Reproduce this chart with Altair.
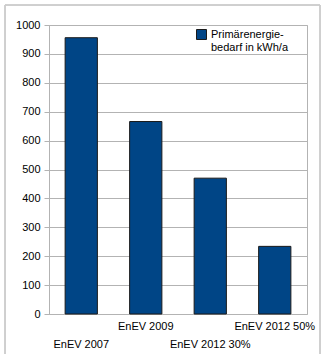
import altair as alt
import pandas as pd

categories = ["EnEV 2007", "EnEV 2009", "EnEV 2012 30%", "EnEV 2012 50%"]
values = [956, 666, 470, 234]
series = "Primärenergiebedarf in kWh/a"

df = pd.DataFrame({"cat": categories, "val": values, "series": [series] * len(categories)})

lower = " || ".join(f"datum.value == '{c}'" for c in categories[0::2])

bars = alt.Chart(df).mark_bar(stroke="#1a1a1a", strokeWidth=1).encode(
    x=alt.X("cat:N", sort=categories, title=None,
            scale=alt.Scale(paddingInner=0.5, paddingOuter=0.25),
            axis=alt.Axis(labelAngle=0, ticks=False, domain=False, grid=False,
                          labelPadding=6, labelFontSize=11, labelColor="#000",
                          labelFont="Liberation Sans", labelLineHeight=18,
                          labelExpr=f"({lower}) ? ['', datum.label] : datum.label")),
    y=alt.Y("val:Q", title=None,
            scale=alt.Scale(domain=[0, 1000], nice=False),
            axis=alt.Axis(values=list(range(0, 1001, 100)), format="d", tickSize=5,
                          tickColor="#b3b3b3",
                          domainColor="#b3b3b3", gridColor="#b3b3b3", labelFontSize=11,
                          labelColor="#000", labelFont="Liberation Sans", labelPadding=4)),
    color=alt.Color("series:N", scale=alt.Scale(range=["#004586"]),
                    legend=alt.Legend(orient="none", legendX=147, legendY=4, title=None,
                                      symbolType="square", symbolSize=100,
                                      symbolStrokeColor="#1a1a1a", symbolStrokeWidth=1,
                                      labelFontSize=11, labelFont="Liberation Sans",
                                      labelColor="#000", padding=0,
                                      labelExpr="['Primärenergie-', 'bedarf in kWh/a']")),
)

frame = alt.Chart(df).mark_rect(fill=None, stroke="#cccccc", strokeWidth=1).encode(
    x=alt.value(-44), x2=alt.value(271), y=alt.value(-20), y2=alt.value(340)
)

chart = alt.layer(frame, bars).properties(
    width=258, height=289,
    padding={"left": 49, "top": 25, "right": 17, "bottom": 40},
    autosize=alt.AutoSizeParams(type="none"),
    background="white",
).configure_view(stroke="#b3b3b3")

chart.save("out.html", embed_options={"renderer": "svg", "actions": False})
